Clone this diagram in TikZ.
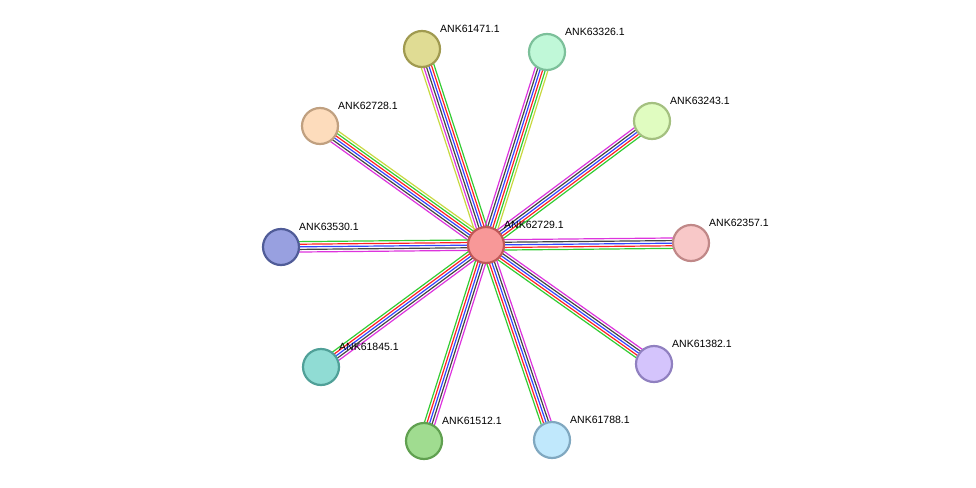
\documentclass[tikz,border=0pt]{standalone}
\usepackage{fontspec}
\setmainfont{Liberation Sans}
\usetikzlibrary{calc}
\definecolor{eg}{HTML}{33CC33}
\definecolor{er}{HTML}{FF2222}
\definecolor{eb}{HTML}{3344FF}
\definecolor{ek}{HTML}{444444}
\definecolor{em}{HTML}{DD33DD}
\definecolor{ey}{HTML}{C8D840}
\tikzset{
  prot/.style={circle,minimum size=36pt,inner sep=0pt,line width=2.2pt},
  lab/.style={anchor=south west,font=\fontsize{10.5pt}{12pt}\selectfont,inner sep=0pt},
  eline/.style={line width=1.2pt}
}
\newcommand{\pedge}[3]{%
  \foreach \c [count=\i] in {#3}{%
    \pgfmathsetmacro{\off}{(\i-1)*2.6-1.3*(#2-1)}%
    \draw[eline,\c] ($(c)!\off pt!90:(#1)$) -- ($(#1)!\off pt!-90:(c)$);
  }}
\begin{document}
\begin{tikzpicture}[x=1pt,y=-1pt]
\useasboundingbox (0,0) rectangle (976,487);
\coordinate (c) at (486,245);
\coordinate (a1) at (422,49);
\coordinate (a2) at (547,52);
\coordinate (a3) at (652,121);
\coordinate (a4) at (320,126);
\coordinate (a5) at (281,247);
\coordinate (a6) at (691,243);
\coordinate (a7) at (321,367);
\coordinate (a8) at (654,364);
\coordinate (a9) at (424,441);
\coordinate (a10) at (552,440);
\pedge{a1}{6}{eg,er,eb,ek,em,ey}
\pedge{a2}{6}{ey,eg,er,eb,ek,em}
\pedge{a3}{5}{eg,er,eb,ek,em}
\pedge{a4}{6}{ey,eg,er,eb,ek,em}
\pedge{a5}{5}{eg,er,eb,ek,em}
\pedge{a6}{5}{eg,er,eb,ek,em}
\pedge{a7}{5}{eg,er,eb,ek,em}
\pedge{a8}{5}{eg,er,eb,ek,em}
\pedge{a9}{5}{eg,er,eb,ek,em}
\pedge{a10}{5}{eg,er,eb,ek,em}
\node[prot,fill={rgb,255:red,248;green,152;blue,152},draw={rgb,255:red,192;green,88;blue,88}] (n0) at (c) {};
\node[prot,fill={rgb,255:red,224;green,220;blue,148},draw={rgb,255:red,160;green,154;blue,80}] (n1) at (a1) {};
\node[prot,fill={rgb,255:red,192;green,248;blue,216},draw={rgb,255:red,124;green,192;blue,154}] (n2) at (a2) {};
\node[prot,fill={rgb,255:red,224;green,252;blue,192},draw={rgb,255:red,164;green,192;blue,128}] (n3) at (a3) {};
\node[prot,fill={rgb,255:red,253;green,220;blue,188},draw={rgb,255:red,192;green,160;blue,128}] (n4) at (a4) {};
\node[prot,fill={rgb,255:red,152;green,160;blue,224},draw={rgb,255:red,80;green,92;blue,152}] (n5) at (a5) {};
\node[prot,fill={rgb,255:red,248;green,200;blue,200},draw={rgb,255:red,192;green,136;blue,136}] (n6) at (a6) {};
\node[prot,fill={rgb,255:red,144;green,220;blue,212},draw={rgb,255:red,80;green,160;blue,152}] (n7) at (a7) {};
\node[prot,fill={rgb,255:red,212;green,196;blue,252},draw={rgb,255:red,144;green,128;blue,192}] (n8) at (a8) {};
\node[prot,fill={rgb,255:red,160;green,220;blue,144},draw={rgb,255:red,96;green,160;blue,80}] (n9) at (a9) {};
\node[prot,fill={rgb,255:red,192;green,232;blue,252},draw={rgb,255:red,128;green,168;blue,192}] (n10) at (a10) {};
\node[lab] (l0) at ($(c)+(18,-16)$) {ANK62729.1};
\node[lab] (l1) at ($(a1)+(18,-16)$) {ANK61471.1};
\node[lab] (l2) at ($(a2)+(18,-16)$) {ANK63326.1};
\node[lab] (l3) at ($(a3)+(18,-16)$) {ANK63243.1};
\node[lab] (l4) at ($(a4)+(18,-16)$) {ANK62728.1};
\node[lab] (l5) at ($(a5)+(18,-16)$) {ANK63530.1};
\node[lab] (l6) at ($(a6)+(18,-16)$) {ANK62357.1};
\node[lab] (l7) at ($(a7)+(18,-16)$) {ANK61845.1};
\node[lab] (l8) at ($(a8)+(18,-16)$) {ANK61382.1};
\node[lab] (l9) at ($(a9)+(18,-16)$) {ANK61512.1};
\node[lab] (l10) at ($(a10)+(18,-16)$) {ANK61788.1};
\end{tikzpicture}
\end{document}
